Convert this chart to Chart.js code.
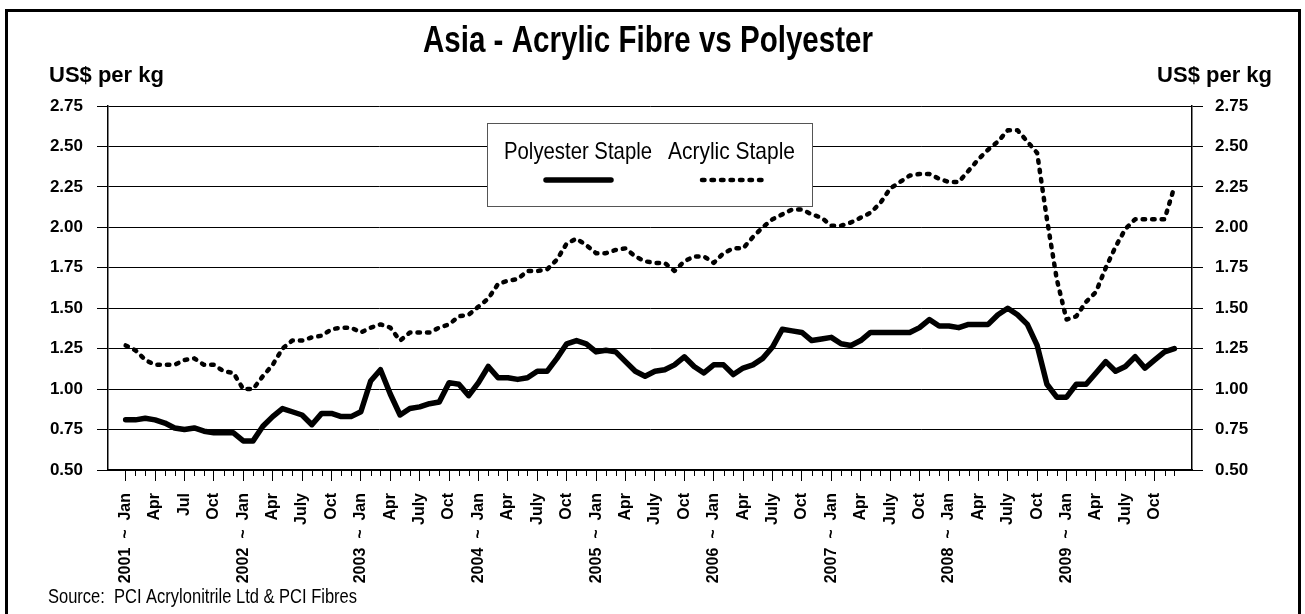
<!DOCTYPE html>
<html>
<head>
<meta charset="utf-8">
<script src="https://cdn.jsdelivr.net/npm/chart.js@4.4.1/dist/chart.umd.min.js"></script>
<style>
  html, body { margin: 0; padding: 0; background: #fff; overflow: hidden; }
  #frame { position: absolute; left: 5px; top: 9px; width: 1296px; height: 640px; border: 3px solid #000; box-sizing: border-box; }
  canvas { position: absolute; left: 0; top: 0; }
</style>
</head>
<body>
<div id="frame"></div>
<canvas id="chart" width="1305" height="614"></canvas>
<script>
const chartTitle = "Asia - Acrylic Fibre vs Polyester";
const unitLabel = "US$ per kg";
const sourceNote = "Source:  PCI Acrylonitrile Ltd & PCI Fibres";

// one label per quarter, Jan 2001 .. Oct 2009
const tickLabels = [
  "2001  ~  Jan", "Apr", "Jul", "Oct",
  "2002  ~  Jan", "Apr", "July", "Oct",
  "2003  ~  Jan", "Apr", "July", "Oct",
  "2004  ~  Jan", "Apr", "July", "Oct",
  "2005  ~  Jan", "Apr", "July", "Oct",
  "2006  ~  Jan", "Apr", "July", "Oct",
  "2007  ~  Jan", "Apr", "July", "Oct",
  "2008  ~  Jan", "Apr", "July", "Oct",
  "2009  ~  Jan", "Apr", "July", "Oct"
];

// monthly prices, Jan 2001 .. Dec 2009 (US$ per kg)
const polyester = [
  0.81, 0.81, 0.82, 0.81, 0.79, 0.76, 0.75, 0.76, 0.74, 0.73, 0.73, 0.73,
  0.68, 0.68, 0.77, 0.83, 0.88, 0.86, 0.84, 0.78, 0.85, 0.85, 0.83, 0.83,
  0.86, 1.05, 1.12, 0.97, 0.84, 0.88, 0.89, 0.91, 0.92, 1.04, 1.03, 0.96,
  1.04, 1.14, 1.07, 1.07, 1.06, 1.07, 1.11, 1.11, 1.19, 1.28, 1.30, 1.28,
  1.23, 1.24, 1.23, 1.17, 1.11, 1.08, 1.11, 1.12, 1.15, 1.20, 1.14, 1.10,
  1.15, 1.15, 1.09, 1.13, 1.15, 1.19, 1.26, 1.37, 1.36, 1.35, 1.30, 1.31,
  1.32, 1.28, 1.27, 1.30, 1.35, 1.35, 1.35, 1.35, 1.35, 1.38, 1.43, 1.39,
  1.39, 1.38, 1.40, 1.40, 1.40, 1.46, 1.50, 1.46, 1.40, 1.27, 1.03, 0.95,
  0.95, 1.03, 1.03, 1.10, 1.17, 1.11, 1.14, 1.20, 1.13, 1.18, 1.23, 1.25
];
const acrylic = [
  1.27, 1.24, 1.18, 1.15, 1.15, 1.15, 1.18, 1.19, 1.15, 1.15, 1.11, 1.10,
  1.00, 1.00, 1.08, 1.15, 1.25, 1.30, 1.30, 1.32, 1.33, 1.37, 1.38, 1.38,
  1.35, 1.38, 1.40, 1.38, 1.30, 1.35, 1.35, 1.35, 1.38, 1.40, 1.45, 1.46,
  1.51, 1.56, 1.65, 1.67, 1.68, 1.73, 1.73, 1.74, 1.80, 1.90, 1.93, 1.89,
  1.84, 1.84, 1.86, 1.87, 1.82, 1.79, 1.78, 1.78, 1.73, 1.79, 1.82, 1.82,
  1.78, 1.84, 1.87, 1.87, 1.94, 2.00, 2.05, 2.08, 2.11, 2.11, 2.08, 2.06,
  2.01, 2.01, 2.03, 2.06, 2.09, 2.15, 2.24, 2.28, 2.32, 2.33, 2.33, 2.30,
  2.28, 2.28, 2.35, 2.42, 2.48, 2.53, 2.60, 2.60, 2.53, 2.46, 2.05, 1.68,
  1.43, 1.45, 1.54, 1.60, 1.75, 1.88, 1.99, 2.05, 2.05, 2.05, 2.05, 2.25
];

const tickMonths = tickLabels.map((_, k) => k * 3);

const SANS = "'Liberation Sans', Arial, sans-serif";

/* draw text squeezed to a given width (the original uses a narrow face) */
function fitText(ctx, text, x, y, width, align) {
  const w = ctx.measureText(text).width;
  const k = Math.min(1, width / w);
  ctx.save();
  ctx.textAlign = "left";
  const left = align === "center" ? x - width / 2 : align === "right" ? x - width : x;
  ctx.translate(left, y);
  ctx.scale(k, 1);
  ctx.fillText(text, 0, 0);
  ctx.restore();
}

/* small monthly ticks under the axis, between the quarter ticks */
const minorTicks = {
  id: "minorTicks",
  afterDraw(chart) {
    const { ctx } = chart;
    const xs = chart.scales.x;
    const y0 = chart.chartArea.bottom;
    ctx.save();
    ctx.strokeStyle = "#000";
    ctx.lineWidth = 1;
    polyester.forEach((_, i) => {
      if (i % 3 === 0) return;
      const px = Math.round(xs.getPixelForValue(i)) + 0.5;
      ctx.beginPath();
      ctx.moveTo(px, y0);
      ctx.lineTo(px, y0 + 6);
      ctx.stroke();
    });
    ctx.restore();
  },
};

/* title, unit captions, source line and the boxed legend */
const decorations = {
  id: "decorations",
  afterDraw(chart) {
    const { ctx } = chart;
    const ds = chart.data.datasets;
    ctx.save();
    ctx.fillStyle = "#000";
    ctx.textBaseline = "alphabetic";

    ctx.font = "bold 36px " + SANS;
    fitText(ctx, chartTitle, 648, 52, 450, "center");

    ctx.font = "bold 22px " + SANS;
    ctx.textAlign = "left";
    ctx.fillText(unitLabel, 49, 82);
    ctx.textAlign = "right";
    ctx.fillText(unitLabel, 1272, 82);

    ctx.font = "20px " + SANS;
    fitText(ctx, sourceNote, 48, 603, 309, "left");

    // legend
    ctx.fillStyle = "#fff";
    ctx.fillRect(487, 123, 325, 83);
    ctx.strokeStyle = "#555";
    ctx.lineWidth = 1;
    ctx.strokeRect(487.5, 123.5, 325, 83);

    ctx.fillStyle = "#000";
    ctx.font = "24px " + SANS;
    fitText(ctx, ds[0].label, 504, 159, 148, "left");
    fitText(ctx, ds[1].label, 668, 159, 127, "left");

    const sample = (d, x1, x2) => {
      ctx.beginPath();
      ctx.strokeStyle = d.borderColor;
      ctx.lineWidth = d.borderWidth;
      ctx.lineCap = "round";
      ctx.setLineDash(d.borderDash || []);
      ctx.moveTo(x1, 180);
      ctx.lineTo(x2, 180);
      ctx.stroke();
    };
    sample(ds[0], 546, 611);
    sample(ds[1], 702, 767);
    ctx.restore();
  },
};

const yTicks = (pad) => ({
  stepSize: 0.25,
  padding: pad,
  color: "#000",
  font: { family: SANS, size: 17, weight: "bold" },
  callback: (v) => Number(v).toFixed(2),
});

new Chart(document.getElementById("chart"), {
  type: "line",
  data: {
    datasets: [
      { label: "Polyester Staple", data: polyester.map((v, i) => ({ x: i, y: v })),
        borderColor: "#000", borderWidth: 5.5, borderCapStyle: "round", borderJoinStyle: "round",
        pointRadius: 0, tension: 0 },
      { label: "Acrylic Staple", data: acrylic.map((v, i) => ({ x: i, y: v })),
        borderColor: "#000", borderWidth: 4.5, borderDash: [2.5, 7], borderCapStyle: "round",
        borderJoinStyle: "round", pointRadius: 0, tension: 0 },
    ],
  },
  options: {
    responsive: false,
    animation: false,
    layout: { padding: { top: 106, left: 0, right: 0, bottom: 0 } },
    plugins: { legend: { display: false }, tooltip: { enabled: false } },
    scales: {
      x: {
        type: "linear", bounds: "data", min: -1.8, max: 108.8,
        afterBuildTicks: (s) => { s.ticks = tickMonths.map((v) => ({ value: v })); },
        afterFit: (s) => { s.height = 144; },
        grid: { drawOnChartArea: false, color: "#000", tickLength: 11, lineWidth: 1 },
        border: { color: "#000", width: 2 },
        ticks: { autoSkip: false, minRotation: 90, maxRotation: 90, padding: 12, color: "#000",
          font: { family: SANS, size: 16, weight: "bold" },
          callback: (v, i) => tickLabels[i] },
      },
      y: {
        position: "left", min: 0.5, max: 2.75,
        afterFit: (s) => { s.width = 108; },
        grid: { color: "#000", tickLength: 11, lineWidth: 1 },
        border: { color: "#000", width: 1.5 },
        ticks: yTicks(14),
      },
      y2: {
        position: "right", min: 0.5, max: 2.75,
        afterFit: (s) => { s.width = 113; },
        grid: { drawOnChartArea: false, color: "#000", tickLength: 11, lineWidth: 1 },
        border: { color: "#000", width: 1.5 },
        ticks: yTicks(12),
      },
    },
  },
  plugins: [minorTicks, decorations],
});
</script>
</body>
</html>
